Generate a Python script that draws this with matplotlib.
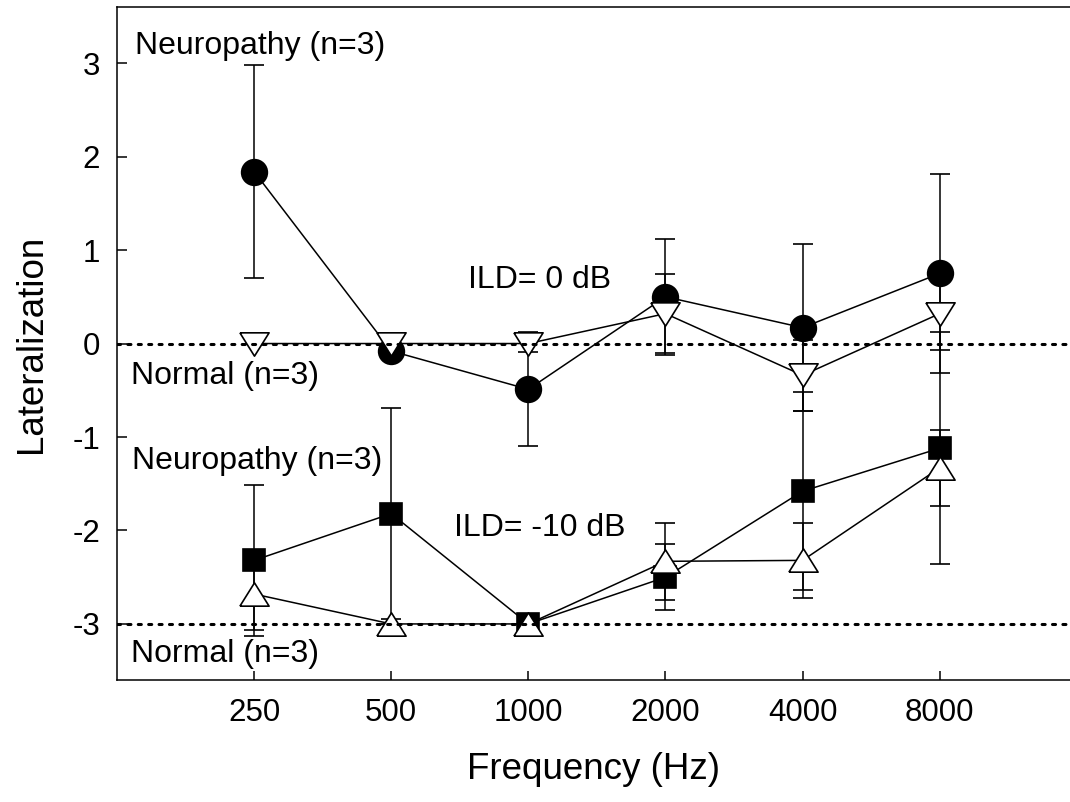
import matplotlib
matplotlib.use("Agg")
import matplotlib.pyplot as plt

plt.rcParams['font.family'] = ['Liberation Sans', 'DejaVu Sans']
plt.rcParams['axes.unicode_minus'] = False

# frequencies (categorical positions)
freq_labels = ['250', '500', '1000', '2000', '4000', '8000']

# ILD = 0 dB
neuro_0 = [1.84, -0.08, -0.49, 0.50, 0.17, 0.75]
neuro_0_err = [1.14, 0.05, 0.61, 0.62, 0.89, 1.06]
normal_0 = [0.0, 0.0, 0.0, 0.32, -0.34, 0.32]
normal_0_err = [0.0, 0.0, 0.09, 0.42, 0.38, 0.39]

# ILD = -10 dB
neuro_10 = [-2.32, -1.82, -3.0, -2.50, -1.58, -1.12]
neuro_10_err = [0.81, 1.13, 0.0, 0.35, 1.06, 1.24]
normal_10 = [-2.68, -3.0, -3.0, -2.33, -2.32, -1.33]
normal_10_err = [0.38, 0.0, 0.0, 0.41, 0.40, 0.41]

x = list(range(len(freq_labels)))

# squat triangles like the original (closed paths)
tri_up = [(-1, -0.8), (1, -0.8), (0, 0.8), (-1, -0.8)]
tri_down = [(-1, 0.8), (1, 0.8), (0, -0.8), (-1, 0.8)]

fig = plt.figure(figsize=(10.7, 8.02), dpi=100)
ax = fig.add_axes([0.1093, 0.1521, 0.8907, 0.8391])

common = dict(color='black', ecolor='black', elinewidth=1.1, capsize=7.2,
              capthick=1.1, lw=1.1, markeredgecolor='black', markeredgewidth=1.2)

ax.errorbar(x, neuro_0, yerr=neuro_0_err, fmt='-o', ms=18.5, mfc='black', zorder=3, **common)
ax.errorbar(x, normal_0, yerr=normal_0_err, fmt='-', marker=tri_down, ms=21, mfc='white', zorder=4, **common)
ax.errorbar(x, neuro_10, yerr=neuro_10_err, fmt='-s', ms=16, mfc='black', zorder=3, **common)
ax.errorbar(x, normal_10, yerr=normal_10_err, fmt='-', marker=tri_up, ms=21, mfc='white', zorder=4, **common)

# reference lines
for yref in [0, -3]:
    ax.axhline(yref, color='black', lw=2.2, linestyle=(0, (1, 2.4)), dash_capstyle='round', zorder=5)

txt = dict(fontsize=23, va='baseline', ha='left')
ax.text(-0.872, 3.10, 'Neuropathy (n=3)', **txt)
ax.text(-0.894, -0.43, 'Normal (n=3)', **txt)
ax.text(1.558, 0.59, 'ILD= 0 dB', **txt)
ax.text(-0.887, -1.34, 'Neuropathy (n=3)', **txt)
ax.text(1.456, -2.06, 'ILD= -10 dB', **txt)
ax.text(-0.894, -3.41, 'Normal (n=3)', **txt)

ax.set_xlim(-1, 5.95)
ax.set_ylim(-3.6, 3.6)
ax.set_xticks(x)
ax.set_xticklabels(freq_labels)
ax.set_yticks([-3, -2, -1, 0, 1, 2, 3])

ax.spines['right'].set_visible(False)
for s in ['left', 'bottom', 'top']:
    ax.spines[s].set_linewidth(1.1)
ax.tick_params(axis='x', direction='in', length=6.5, width=1.1, pad=13, labelsize=22.5)
ax.tick_params(axis='y', direction='in', length=7.5, width=1.1, pad=12, labelsize=22.5)

ax.set_xlabel('Frequency (Hz)', fontsize=26.5, labelpad=17)
ax.set_ylabel('Lateralization', fontsize=26.5, labelpad=17)

plt.savefig('out.png', dpi=100)
